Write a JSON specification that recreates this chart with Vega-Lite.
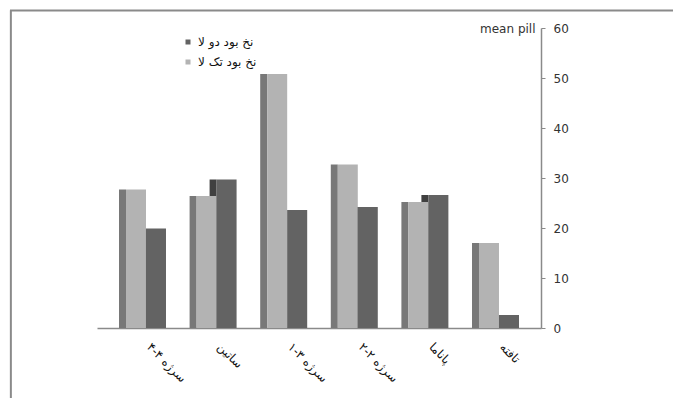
{
  "$schema": "https://vega.github.io/schema/vega-lite/v6.json",
  "autosize": "none",
  "width": 444,
  "height": 300,
  "padding": {"left": 97, "top": 28, "right": 132, "bottom": 70},
  "background": "white",
  "config": {
    "view": {"stroke": null},
    "font": "DejaVu Sans"
  },
  "data": {
    "values": [
      {"fabric": "سرژه ۴-۴", "series": "نخ بود تک لا", "pill": 27.7},
      {"fabric": "سرژه ۴-۴", "series": "نخ بود دو لا", "pill": 19.9},
      {"fabric": "ساتین", "series": "نخ بود تک لا", "pill": 26.4},
      {"fabric": "ساتین", "series": "نخ بود دو لا", "pill": 29.7},
      {"fabric": "سرژه ۳-۱", "series": "نخ بود تک لا", "pill": 50.8},
      {"fabric": "سرژه ۳-۱", "series": "نخ بود دو لا", "pill": 23.6},
      {"fabric": "سرژه ۲-۲", "series": "نخ بود تک لا", "pill": 32.7},
      {"fabric": "سرژه ۲-۲", "series": "نخ بود دو لا", "pill": 24.2},
      {"fabric": "پاناما", "series": "نخ بود تک لا", "pill": 25.2},
      {"fabric": "پاناما", "series": "نخ بود دو لا", "pill": 26.6},
      {"fabric": "تافته", "series": "نخ بود تک لا", "pill": 17.0},
      {"fabric": "تافته", "series": "نخ بود دو لا", "pill": 2.6}
    ]
  },
  "resolve": {"scale": {"x": "independent"}, "axis": {"x": "independent"}},
  "layer": [
    {
      "encoding": {
        "x": {
          "field": "fabric",
          "type": "nominal",
          "sort": null,
          "scale": {"paddingInner": 0, "paddingOuter": 0.1445, "align": 0.5},
          "axis": {
            "title": null,
            "ticks": false,
            "domainColor": "#8a8a8a",
            "domainWidth": 1.5,
            "labelAngle": 45,
            "labelAlign": "left",
            "labelBaseline": "top",
            "labelFont": "DejaVu Sans",
            "labelFontSize": 12,
            "labelColor": "#111111",
            "labelPadding": 13,
            "labelOffset": 10
          }
        },
        "y": {
          "field": "pill",
          "type": "quantitative",
          "scale": {"domain": [0, 60], "nice": false},
          "axis": {
            "orient": "right",
            "values": [0, 10, 20, 30, 40, 50, 60],
            "grid": false,
            "domainColor": "#8a8a8a",
            "domainWidth": 1.5,
            "tickColor": "#8a8a8a",
            "tickSize": 4,
            "labelPadding": 8,
            "labelFont": "DejaVu Sans",
            "labelFontSize": 12,
            "labelColor": "#333333",
            "title": "mean pill",
            "titleFont": "DejaVu Sans",
            "titleFontSize": 12,
            "titleFontWeight": "normal",
            "titleColor": "#333333",
            "titleAngle": 0,
            "titleAlign": "right",
            "titleBaseline": "middle",
            "titleX": -6,
            "titleY": 0
          }
        }
      },
      "layer": [
        {
          "transform": [{"filter": "datum.series === 'نخ بود دو لا'"}],
          "mark": {"type": "bar", "color": "#404040", "width": 7, "xOffset": 0}
        },
        {
          "transform": [{"filter": "datum.series === 'نخ بود تک لا'"}],
          "mark": {"type": "bar", "color": "#787878", "width": 7, "xOffset": -20}
        },
        {
          "mark": {"type": "bar"},
          "encoding": {
            "xOffset": {
              "field": "series",
              "type": "nominal",
              "scale": {
                "domain": ["نخ بود تک لا", "نخ بود دو لا"],
                "paddingInner": 0,
                "paddingOuter": 0.765,
                "align": 0.614
              }
            },
            "color": {
              "field": "series",
              "type": "nominal",
              "scale": {
                "domain": ["نخ بود دو لا", "نخ بود تک لا"],
                "range": ["#636363", "#b3b3b3"]
              },
              "legend": {
                "orient": "none",
                "legendX": 85,
                "legendY": 8,
                "title": null,
                "padding": 0,
                "symbolType": "square",
                "symbolSize": 25,
                "symbolStrokeWidth": 0,
                "labelFont": "DejaVu Sans",
                "labelFontSize": 12,
                "labelColor": "#111111",
                "labelOffset": 4,
                "rowPadding": 8
              }
            }
          }
        }
      ]
    },
    {
      "data": {"values": [{}]},
      "layer": [
        {
          "mark": {"type": "rule", "color": "#8a8a8a", "strokeWidth": 2},
          "encoding": {
            "x": {"datum": -0.196, "type": "quantitative", "scale": {"domain": [0, 1], "nice": false, "zero": false}, "axis": null},
            "x2": {"datum": 1.31},
            "y": {"datum": 63.5, "type": "quantitative"}
          }
        },
        {
          "mark": {"type": "rule", "color": "#8a8a8a", "strokeWidth": 2},
          "encoding": {
            "x": {"datum": -0.194, "type": "quantitative", "scale": {"domain": [0, 1], "nice": false, "zero": false}, "axis": null},
            "y": {"datum": 63.5, "type": "quantitative"},
            "y2": {"datum": -16}
          }
        }
      ]
    }
  ]
}
